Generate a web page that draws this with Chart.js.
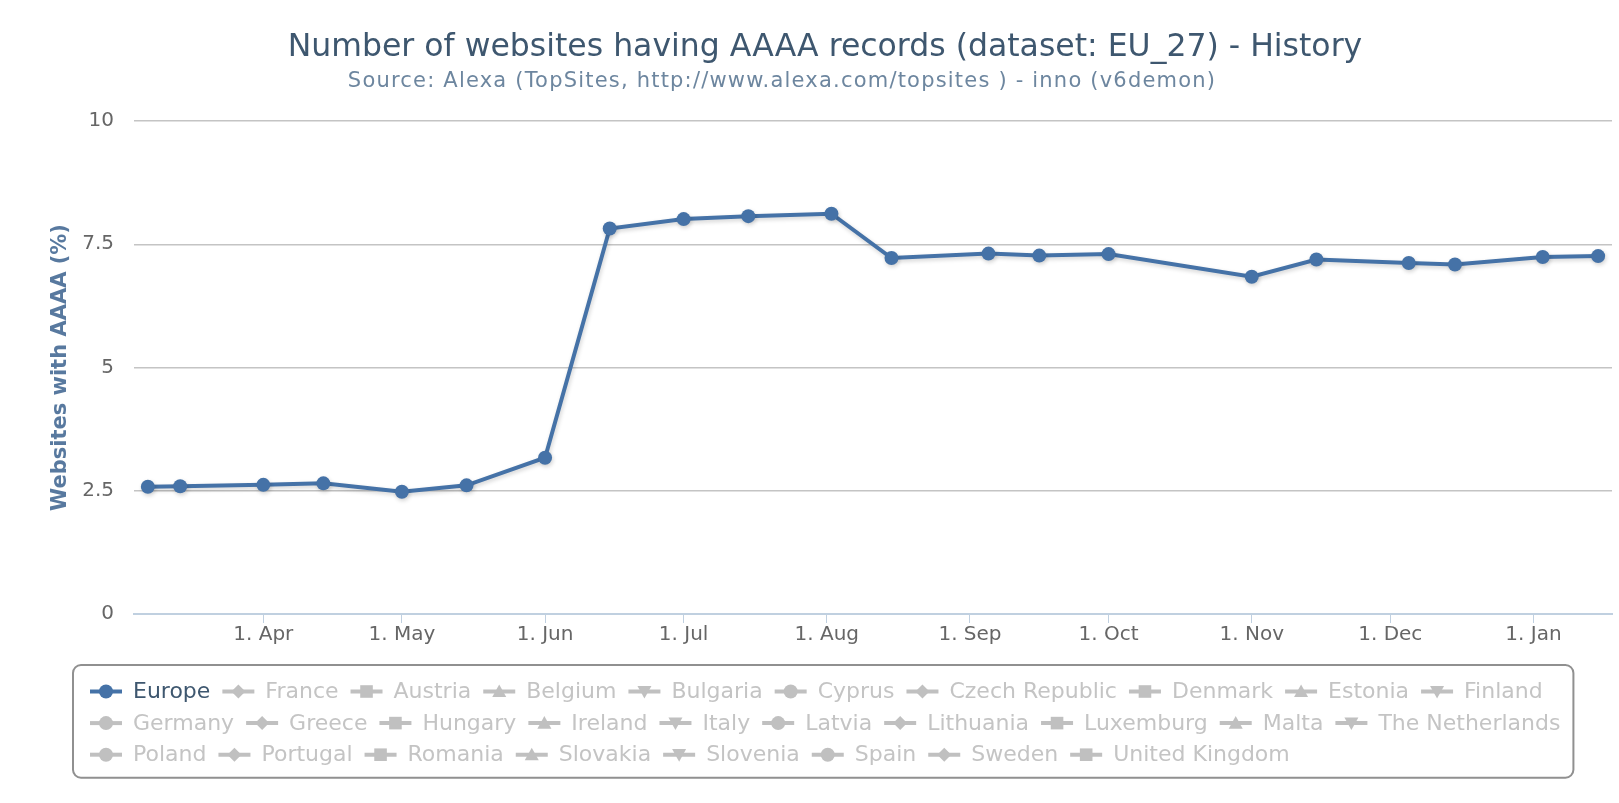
<!DOCTYPE html>
<html>
<head>
<meta charset="utf-8">
<title>Number of websites having AAAA records (dataset: EU_27) - History</title>
<script src="https://cdn.jsdelivr.net/npm/chart.js@4.4.1/dist/chart.umd.min.js"></script>
<style>
  html, body { margin: 0; padding: 0; background: #fff; }
  #wrap { width: 1619px; height: 803px; }
</style>
</head>
<body>
<div id="wrap"><canvas id="chart" width="1619" height="803"></canvas></div>
<script>
// sample dates and Europe share (%)
const sampleDates = [
  '2010-03-07', '2010-03-14', '2010-04-01', '2010-04-14', '2010-05-01', '2010-05-15',
  '2010-06-01', '2010-06-15', '2010-07-01', '2010-07-15', '2010-08-02', '2010-08-15',
  '2010-09-05', '2010-09-16', '2010-10-01', '2010-11-01', '2010-11-15', '2010-12-05',
  '2010-12-15', '2011-01-03', '2011-01-15'
];
const europeValues = [
  2.58, 2.59, 2.62, 2.65, 2.48, 2.61,
  3.17, 7.82, 8.01, 8.07, 8.12, 7.22,
  7.31, 7.27, 7.30, 6.84, 7.19, 7.12,
  7.09, 7.24, 7.26
];

const axisStart = '2010-03-04';
const axisEnd = '2011-01-18';
const monthTicks = [
  '2010-04-01', '2010-05-01', '2010-06-01', '2010-07-01', '2010-08-01',
  '2010-09-01', '2010-10-01', '2010-11-01', '2010-12-01', '2011-01-01'
];
const monthLabels = ['1. Apr', '1. May', '1. Jun', '1. Jul', '1. Aug', '1. Sep', '1. Oct', '1. Nov', '1. Dec', '1. Jan'];

const seriesNames = [
  'Europe', 'France', 'Austria', 'Belgium', 'Bulgaria', 'Cyprus', 'Czech Republic', 'Denmark',
  'Estonia', 'Finland', 'Germany', 'Greece', 'Hungary', 'Ireland', 'Italy', 'Latvia', 'Lithuania',
  'Luxemburg', 'Malta', 'The Netherlands', 'Poland', 'Portugal', 'Romania', 'Slovakia', 'Slovenia',
  'Spain', 'Sweden', 'United Kingdom'
];
const markerShapes = ['circle', 'diamond', 'square', 'triangle', 'triangle-down'];

const TITLE = 'Number of websites having AAAA records (dataset: EU_27) - History';
const SUBTITLE = 'Source: Alexa (TopSites, http://www.alexa.com/topsites ) - inno (v6demon)';
const FONT = '"DejaVu Sans", Verdana, sans-serif';
const SERIES_COLOR = '#4572A7';

const EPOCH = Date.UTC(2010, 0, 1);
function dayOf(s) {
  const [y, m, d] = s.split('-').map(Number);
  return (Date.UTC(y, m - 1, d) - EPOCH) / 86400000;
}

function drawMarker(ctx, shape, cx, cy, r) {
  ctx.beginPath();
  if (shape === 'circle') {
    ctx.arc(cx, cy, r, 0, Math.PI * 2);
  } else if (shape === 'diamond') {
    ctx.moveTo(cx, cy - r); ctx.lineTo(cx + r, cy); ctx.lineTo(cx, cy + r); ctx.lineTo(cx - r, cy);
  } else if (shape === 'square') {
    ctx.rect(cx - r * 0.9, cy - r * 0.9, r * 1.8, r * 1.8);
  } else if (shape === 'triangle') {
    ctx.moveTo(cx, cy - r); ctx.lineTo(cx + r, cy + r * 0.8); ctx.lineTo(cx - r, cy + r * 0.8);
  } else {
    ctx.moveTo(cx, cy + r); ctx.lineTo(cx + r, cy - r * 0.8); ctx.lineTo(cx - r, cy - r * 0.8);
  }
  ctx.closePath();
  ctx.fill();
}

const headerPlugin = {
  id: 'header',
  afterDraw(chart) {
    const ctx = chart.ctx;
    ctx.save();
    ctx.textAlign = 'center';
    ctx.textBaseline = 'middle';
    ctx.fillStyle = '#3E576F';
    ctx.font = '31.5px ' + FONT;
    ctx.fillText(TITLE, 825, 48);
    ctx.fillStyle = '#6D869F';
    ctx.font = '21px ' + FONT;
    ctx.letterSpacing = '1.2px';
    ctx.fillText(SUBTITLE, 782, 82);
    ctx.restore();
  }
};

const boxLegend = {
  id: 'boxLegend',
  afterDraw(chart) {
    const ctx = chart.ctx;
    const left = 73, top = 665, startX = 90, firstRow = 691.5, rowH = 31.6;
    const symW = 32, textGap = 11, itemGap = 12, limit = 1600;
    ctx.save();
    ctx.font = '22px ' + FONT;

    const items = [];
    let x = startX, row = 0, maxRight = 0;
    seriesNames.forEach((name, i) => {
      const w = symW + textGap + ctx.measureText(name).width;
      if (x + w > limit && x > startX) { row++; x = startX; }
      items.push({ name, i, x, row });
      maxRight = Math.max(maxRight, x + w);
      x += w + itemGap;
    });

    const boxW = maxRight + 13 - left;
    const boxH = firstRow - top + row * rowH + 23;
    ctx.strokeStyle = '#909090';
    ctx.lineWidth = 2;
    ctx.beginPath();
    ctx.roundRect(left, top, boxW, boxH, 8);
    ctx.stroke();

    ctx.textBaseline = 'middle';
    ctx.textAlign = 'left';
    items.forEach(it => {
      const y = firstRow + it.row * rowH;
      const active = it.i === 0;
      const col = active ? SERIES_COLOR : '#C0C0C0';
      ctx.strokeStyle = col;
      ctx.fillStyle = col;
      ctx.lineWidth = 4;
      ctx.beginPath();
      ctx.moveTo(it.x, y);
      ctx.lineTo(it.x + symW, y);
      ctx.stroke();
      drawMarker(ctx, markerShapes[it.i % markerShapes.length], it.x + symW / 2, y, 7);
      ctx.fillStyle = active ? '#3E576F' : '#C4C4C4';
      ctx.fillText(it.name, it.x + symW + textGap, y + 1);
    });
    ctx.restore();
  }
};

const lineShadow = {
  id: 'lineShadow',
  beforeDatasetDraw(chart) {
    const c = chart.ctx;
    c.save();
    c.shadowColor = 'rgba(0,0,0,0.18)';
    c.shadowBlur = 4;
    c.shadowOffsetX = 1;
    c.shadowOffsetY = 2;
  },
  afterDatasetDraw(chart) {
    chart.ctx.restore();
  }
};

const tickFont = { family: FONT, size: 20 };

new Chart(document.getElementById('chart'), {
  type: 'line',
  data: {
    datasets: [{
      label: seriesNames[0],
      data: sampleDates.map((d, i) => ({ x: dayOf(d), y: europeValues[i] })),
      borderColor: SERIES_COLOR,
      backgroundColor: SERIES_COLOR,
      borderWidth: 4,
      pointRadius: 7,
      pointBorderWidth: 0,
      pointBackgroundColor: SERIES_COLOR,
      tension: 0
    }]
  },
  options: {
    responsive: false,
    animation: false,
    layout: { padding: { top: 121, right: 5, bottom: 149, left: 0 } },
    plugins: { legend: { display: false }, tooltip: { enabled: false } },
    scales: {
      x: {
        type: 'linear',
        min: dayOf(axisStart),
        max: dayOf(axisEnd),
        afterBuildTicks: s => { s.ticks = monthTicks.map(d => ({ value: dayOf(d) })); },
        afterFit: s => { s.height = 40; },
        grid: { drawOnChartArea: false, drawTicks: true, tickLength: 9, color: '#C0D0E0', lineWidth: 1 },
        border: { color: '#C0D0E0', width: 2 },
        ticks: {
          callback: (v, i) => monthLabels[i],
          color: '#666',
          font: tickFont,
          padding: 0,
          maxRotation: 0,
          autoSkip: false
        }
      },
      y: {
        min: 0,
        max: 10,
        afterFit: s => { s.width = 134; },
        ticks: { stepSize: 2.5, color: '#666', font: tickFont, padding: 20 },
        grid: {
          color: c => (c.tick.value === 0 ? 'rgba(0,0,0,0)' : '#C4C4C4'),
          lineWidth: 1.5,
          drawTicks: false
        },
        border: { display: false },
        title: {
          display: true,
          text: 'Websites with AAAA (%)',
          color: '#58799F',
          font: { family: FONT, size: 21, weight: 'bold' },
          padding: { top: 48, bottom: 0 }
        }
      }
    }
  },
  plugins: [lineShadow, headerPlugin, boxLegend]
});
</script>
</body>
</html>
